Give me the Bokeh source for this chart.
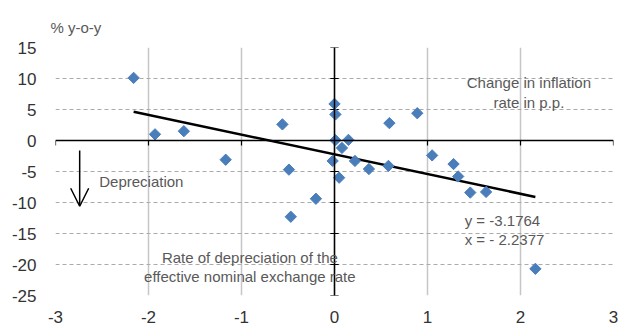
from bokeh.plotting import figure
from bokeh.models import Range1d, FixedTicker, Span, Label, Arrow, OpenHead, ColumnDataSource, Title
from bokeh.embed import file_html
from bokeh.resources import INLINE
import numpy as np

# ---- data ----
x_vals = [-2.16, -1.93, -1.62, -1.17, -0.56, -0.49, -0.47, 0.00, 0.01, 0.59,
          0.89, 0.01, 0.15, 0.08, -0.02, 0.22, 0.37, 0.58, 0.05, -0.20,
          1.05, 1.28, 1.33, 1.46, 1.63, 2.16]
y_vals = [10.1, 1.0, 1.5, -3.1, 2.6, -4.7, -12.3, 5.9, 4.2, 2.8,
          4.4, 0.05, 0.1, -1.2, -3.3, -3.3, -4.6, -4.1, -6.0, -9.4,
          -2.4, -3.8, -5.8, -8.4, -8.3, -20.7]
trend_slope = -3.1764
trend_intercept = -2.2377
x_ticks = [-3, -2, -1, 0, 1, 2, 3]
x_tick_labels = ["-3", "-2", "-1", "0", "1", "2", "3"]
y_ticks = [-25, -20, -15, -10, -5, 0, 5, 10, 15]
y_tick_labels = ["-25", "-20", "-15", "-10", "-5", "0", "5", "10", "15"]

FONT = "Liberation Sans"
GRAY_TXT = "#595959"

p = figure(width=619, height=325, output_backend="svg", toolbar_location=None,
           x_range=Range1d(-3, 3), y_range=Range1d(-25, 15),
           min_border_left=55, min_border_right=6, min_border_top=47, min_border_bottom=29)
p.outline_line_color = None
p.background_fill_color = "white"

# title-like unit label
t = Title(text="% y-o-y", text_font=FONT, text_font_size="15px", text_color=GRAY_TXT,
          text_font_style="normal", align="left", offset=-5, standoff=23)
p.add_layout(t, "above")

# grid
p.xgrid.ticker = FixedTicker(ticks=x_ticks)
p.xgrid.grid_line_color = "#c6c6c6"
p.xgrid.grid_line_width = 1.5
p.ygrid.ticker = FixedTicker(ticks=y_ticks)
p.ygrid.grid_line_color = "#ababab"
p.ygrid.grid_line_dash = "4 3"
p.ygrid.grid_line_width = 1

# axes (labels only at frame edges)
for ax, ticks, labels in ((p.xaxis[0], x_ticks, x_tick_labels), (p.yaxis[0], y_ticks, y_tick_labels)):
    ax.ticker = FixedTicker(ticks=ticks)
    ax.major_label_overrides = {t: l for t, l in zip(ticks, labels)}
    ax.axis_line_color = None
    ax.major_tick_line_color = None
    ax.minor_tick_line_color = None
    ax.major_label_text_font = FONT
    ax.major_label_text_font_size = "17px"
    ax.major_label_text_color = "#333333"
p.xaxis.major_label_standoff = 9
p.yaxis.major_label_standoff = 13

# central axes
p.add_layout(Span(location=0, dimension="height", line_color="black", line_width=1.5))
p.add_layout(Span(location=0, dimension="width", line_color="black", line_width=1.5))
# tick marks on central axes
p.segment(x0=[-0.045] * len(y_ticks), y0=y_ticks, x1=[0.045] * len(y_ticks), y1=y_ticks,
          line_color="black", line_width=1.2)
p.segment(x0=x_ticks, y0=[0] * len(x_ticks), x1=x_ticks, y1=[-0.8] * len(x_ticks),
          line_color="black", line_width=1.2)

# trend line
tx = np.array([min(x_vals), max(x_vals)])
ty = trend_slope * tx + trend_intercept
p.line(tx, ty, line_color="black", line_width=2.5)

# scatter
src = ColumnDataSource(dict(x=x_vals, y=y_vals))
p.scatter("x", "y", source=src, marker="square", angle=np.pi / 4, size=8,
          fill_color="#4a7ebb", line_color="#4a7ebb")

# arrow
p.add_layout(Arrow(end=OpenHead(size=18, line_color="black", line_width=1.5),
                   x_start=-2.74, y_start=-1.6, x_end=-2.74, y_end=-10.6,
                   line_color="black", line_width=1.5))

def lab(x, y, text, align="left", size="15px"):
    p.add_layout(Label(x=x, y=y, text=text, text_font=FONT, text_font_size=size,
                       text_color=GRAY_TXT, text_align=align, text_baseline="middle"))

lab(-2.53, -6.6, "Depreciation")
lab(2.09, 9.3, "Change in inflation", align="center")
lab(2.09, 6.2, "rate in p.p.", align="center")
lab(-0.91, -18.8, "Rate of depreciation of the", align="center")
lab(-0.91, -21.9, "effective nominal exchange rate", align="center")
lab(1.40, -12.9, "y = -3.1764")
lab(1.40, -15.9, "x = - 2.2377")

open("out.html", "w").write(file_html(p, INLINE))
